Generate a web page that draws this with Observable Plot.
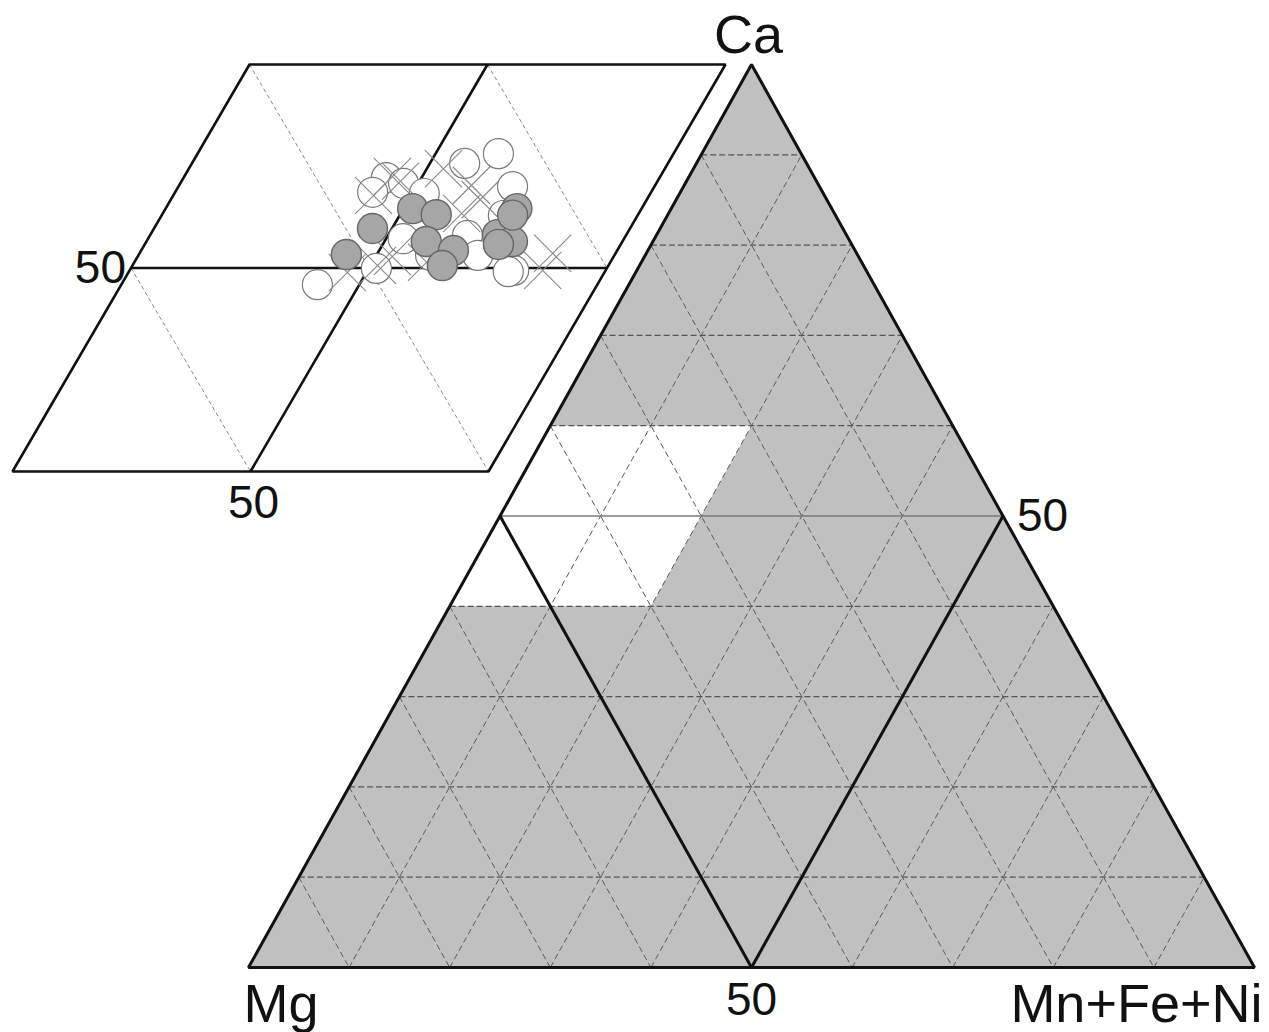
<!DOCTYPE html>
<html>
<head>
<meta charset="utf-8">
<script src="https://cdn.jsdelivr.net/npm/d3@7"></script>
<script src="https://cdn.jsdelivr.net/npm/@observablehq/plot@0.6"></script>
<style>
  html, body { margin: 0; padding: 0; background: #fff; }
  #chart svg { display: block; }
</style>
</head>
<body>
<div id="chart"></div>
<script>
// End-members of the ternary diagram (apex, lower left, lower right)
const vertexNames = ["Ca", "Mg", "Mn+Fe+Ni"];
// Dashed grid every 10 %; the 50 % lines are drawn solid
const gridSteps = [10, 20, 30, 40, 60, 70, 80, 90];
const midValue = 50;
const tickLabel = "50";
// Unshaded field: Ca 40–60 %, Mn+Fe+Ni 0–20 %
const fieldCa = [60, 60, 40, 40];
const fieldMn = [0, 20, 20, 0];

// Enlarged panel: each sample as % along the lower edge and % along the slanted edge
const openBottom = [63.2, 57.3, 42.6, 41.5, 46.9, 52.5, 70.2, 53.6, 66.7, 51.6, 41.2, 80.7, 79.7, 61.4, 71.3, 71.8];
const openSide   = [78.1, 75.7, 72.2, 68.6, 70.8, 68.3, 70.0, 57.2, 58.0, 49.9, 45.9, 49.4, 49.1, 53.1, 53.1, 62.9];
const crossBottom = [53.5, 61.4, 65.0, 62.8, 86.8, 86.8, 42.1, 46.0, 51.5, 46.0, 53.5, 61.4, 43.7];
const crossSide   = [74.4, 70.3, 66.8, 63.4, 53.6, 49.4, 67.8, 71.3, 50.6, 48.9, 52.8, 51.4, 72.5];
const filledBottom = [43.6, 45.9, 51.9, 57.6, 58.8, 65.6, 65.1, 72.9, 76.9, 73.8, 73.7, 74.3];
const filledSide   = [53.3, 59.7, 64.6, 63.1, 56.5, 54.3, 50.6, 58.2, 56.5, 64.6, 63.0, 55.8];

// ---- layout ----
const W = 1269, H = 1032;
const apex = [751, 64], left = [248, 967], right = [1254, 967];
// ternary (Ca %, Mn+Fe+Ni %) -> page position
function tern(ca, mn) {
  return [
    left[0] + (mn / 100) * (right[0] - left[0]) + (ca / 100) * (apex[0] - left[0]),
    left[1] + (ca / 100) * (apex[1] - left[1])
  ];
}
// enlarged panel: lower-left corner, lower edge vector, slanted edge vector
const pOrigin = [12, 471], pBottom = [476, 0], pSide = [237, -407];
function panel(a, b) {
  return [
    pOrigin[0] + (a / 100) * pBottom[0] + (b / 100) * pSide[0],
    pOrigin[1] + (a / 100) * pBottom[1] + (b / 100) * pSide[1]
  ];
}
function seg(p, q) { return {x1: p[0], y1: p[1], x2: q[0], y2: q[1]}; }

// polygons
const triangle = [[100, 0], [0, 0], [0, 100]].map(([c, m]) => { const [x, y] = tern(c, m); return {x, y}; });
const field = fieldCa.map((c, i) => { const [x, y] = tern(c, fieldMn[i]); return {x, y}; });

// ternary grid
const gridCa = [], gridSlant = [];
for (const s of gridSteps) {
  gridCa.push(seg(tern(s, 0), tern(s, 100 - s)));            // constant Ca
  gridSlant.push(seg(tern(0, s), tern(100 - s, s)));          // constant Mn+Fe+Ni
  gridSlant.push(seg(tern(100 - s, 0), tern(0, 100 - s)));    // constant Mg
}
const caMid = [seg(tern(midValue, 0), tern(midValue, 100 - midValue))];
const heavy = [
  seg(tern(midValue, 0), tern(0, midValue)),                 // Mg = 50
  seg(tern(midValue, midValue), tern(0, midValue))           // Mn+Fe+Ni = 50
];

// enlarged panel lines
const panelOutline = [[0, 0], [100, 0], [100, 100], [0, 100]].map(([a, b]) => { const [x, y] = panel(a, b); return {x, y}; });
const panelMid = [
  seg(panel(0, midValue), panel(100, midValue)),
  seg(panel(midValue, 0), panel(midValue, 100))
];
const panelDash = [
  seg(panel(0, 50), panel(50, 0)),
  seg(panel(0, 100), panel(100, 0)),
  seg(panel(50, 100), panel(100, 50))
];

const toXY = (A, B) => A.map((a, i) => { const [x, y] = panel(a, B[i]); return {x, y}; });
const openPts = toXY(openBottom, openSide);
const crossPts = toXY(crossBottom, crossSide);
const filledPts = toXY(filledBottom, filledSide);

// label anchors
const [ax, ay] = tern(100, 0), [lx, ly] = tern(0, 0), [rx, ry] = tern(0, 100);
const [r50x, r50y] = tern(midValue, 100 - midValue);
const [b50x, b50y] = tern(0, midValue);
const [pl50x, pl50y] = panel(0, midValue);
const [pb50x, pb50y] = panel(midValue, 0);

const font = 54, tickFont = 46;
const L = (data, o) => Plot.link(data, {x1: "x1", y1: "y1", x2: "x2", y2: "y2", ...o});

const chart = Plot.plot({
  width: W,
  height: H,
  margin: 0,
  x: {domain: [0, W], range: [0, W], axis: null},
  y: {domain: [0, H], range: [0, H], axis: null},
  style: {fontFamily: "'Liberation Sans', Arial, sans-serif", background: "#fff"},
  marks: [
    // main triangle
    Plot.line(triangle, {x: "x", y: "y", curve: "linear-closed", fill: "#c0c0c0", stroke: "none"}),
    Plot.line(field, {x: "x", y: "y", curve: "linear-closed", fill: "#ffffff", stroke: "none"}),
    L(gridCa, {stroke: "#555", strokeWidth: 1.2, strokeDasharray: "6,3"}),
    L(gridSlant, {stroke: "#5a5a5a", strokeWidth: 1, strokeDasharray: "6,3.5"}),
    L(caMid, {stroke: "#7a7a7a", strokeWidth: 1.4}),
    L(heavy, {stroke: "#111", strokeWidth: 3}),
    Plot.line(triangle, {x: "x", y: "y", curve: "linear-closed", fill: "none", stroke: "#111", strokeWidth: 3, strokeLinejoin: "miter"}),

    // enlarged panel
    L(panelDash, {stroke: "#888", strokeWidth: 1, strokeDasharray: "4,3"}),
    L(panelMid, {stroke: "#111", strokeWidth: 2.6}),
    Plot.line(panelOutline, {x: "x", y: "y", curve: "linear-closed", fill: "none", stroke: "#111", strokeWidth: 2.6, strokeLinejoin: "miter"}),
    Plot.dot(openPts, {x: "x", y: "y", r: 15, fill: "#fff", stroke: "#7a7a7a", strokeWidth: 1.2}),
    Plot.dot(crossPts, {x: "x", y: "y", r: 17, symbol: "times", stroke: "#8a8a8a", strokeWidth: 1.1}),
    Plot.dot(filledPts, {x: "x", y: "y", r: 15, fill: "#a6a6a6", stroke: "#666", strokeWidth: 1.4}),

    // text
    Plot.text([vertexNames[0]], {x: [ax], y: [ay], dx: -3, dy: -12, text: d => d, fontSize: font, textAnchor: "middle", lineAnchor: "bottom", fill: "#111"}),
    Plot.text([vertexNames[1]], {x: [lx], y: [ly], dx: -5, dy: 54, text: d => d, fontSize: font, textAnchor: "start", lineAnchor: "bottom", fill: "#111"}),
    Plot.text([vertexNames[2]], {x: [rx], y: [ry], dx: 8, dy: 54, text: d => d, fontSize: font, textAnchor: "end", lineAnchor: "bottom", fill: "#111"}),
    Plot.text([tickLabel], {x: [r50x], y: [r50y], dx: 14, text: d => d, fontSize: tickFont, textAnchor: "start", lineAnchor: "middle", fill: "#111"}),
    Plot.text([tickLabel], {x: [b50x], y: [b50y], dy: 47, text: d => d, fontSize: tickFont, textAnchor: "middle", lineAnchor: "bottom", fill: "#111"}),
    Plot.text([tickLabel], {x: [pl50x], y: [pl50y], dx: -5, text: d => d, fontSize: tickFont, textAnchor: "end", lineAnchor: "middle", fill: "#111"}),
    Plot.text([tickLabel], {x: [pb50x], y: [pb50y], dx: 3, dy: 46, text: d => d, fontSize: tickFont, textAnchor: "middle", lineAnchor: "bottom", fill: "#111"})
  ]
});
document.getElementById("chart").appendChild(chart);
</script>
</body>
</html>
